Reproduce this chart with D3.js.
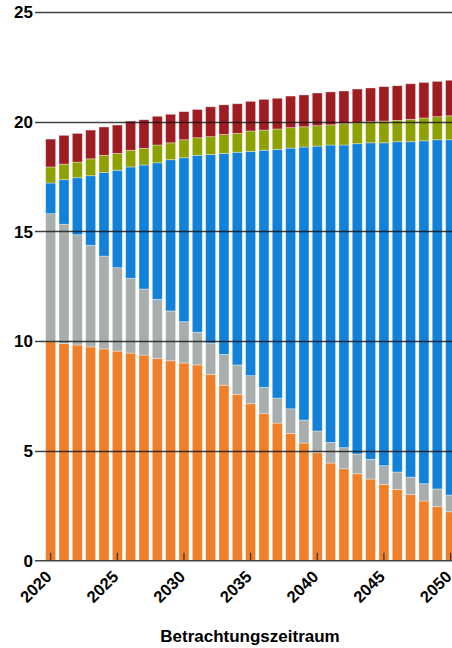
<!DOCTYPE html>
<html>
<head>
<meta charset="utf-8">
<script src="https://cdn.jsdelivr.net/npm/d3@7"></script>
<style>
  body { margin: 0; background: #fff; }
  text { font-family: "Liberation Sans", Arial, sans-serif; font-weight: bold; }
</style>
</head>
<body>
<div id="chart"></div>
<script>
// years on the x axis
var years = d3.range(2020, 2051);

// segment values per year, bottom to top
var orange = [9.98, 9.89, 9.83, 9.74, 9.65, 9.55, 9.46, 9.37, 9.22, 9.11, 9.01,
              8.92, 8.49, 8.00, 7.58, 7.15, 6.70, 6.27, 5.79, 5.36, 4.92,
              4.45, 4.19, 3.96, 3.72, 3.48, 3.25, 3.01, 2.72, 2.46, 2.23];
var grey   = [5.83, 5.44, 5.02, 4.63, 4.23, 3.80, 3.41, 3.01, 2.69, 2.27, 1.88,
              1.49, 1.43, 1.40, 1.34, 1.28, 1.20, 1.14, 1.13, 1.05, 0.99,
              0.94, 0.96, 0.90, 0.90, 0.85, 0.79, 0.80, 0.79, 0.81, 0.76];
var blue   = [1.40, 2.03, 2.60, 3.17, 3.81, 4.44, 5.07, 5.65, 6.22, 6.89, 7.47,
              8.06, 8.59, 9.16, 9.69, 10.22, 10.80, 11.33, 11.88, 12.44, 12.98,
              13.55, 13.79, 14.14, 14.42, 14.71, 15.05, 15.28, 15.62, 15.91, 16.19];
var green  = [0.73, 0.71, 0.71, 0.77, 0.78, 0.77, 0.76, 0.76, 0.81, 0.77, 0.82,
              0.80, 0.81, 0.86, 0.86, 0.93, 0.92, 0.93, 0.93, 0.92, 0.93,
              0.92, 0.97, 0.95, 0.96, 0.99, 0.97, 1.02, 1.04, 1.05, 1.09];
var red    = [1.27, 1.31, 1.31, 1.31, 1.29, 1.29, 1.33, 1.30, 1.31, 1.30, 1.28,
              1.29, 1.36, 1.35, 1.35, 1.35, 1.40, 1.40, 1.44, 1.45, 1.49,
              1.50, 1.49, 1.54, 1.54, 1.57, 1.58, 1.62, 1.62, 1.61, 1.62];

var yTicks = [0, 5, 10, 15, 20, 25];
var xTicks = [2020, 2025, 2030, 2035, 2040, 2045, 2050];
var axisTitle = "Betrachtungszeitraum";

var keys = ["orange", "grey", "blue", "green", "red"];
var colors = {
    orange: "#f07f29",
    grey: "#a8aead",
    blue: "#1281d9",
    green: "#8fa100",
    red: "#a01c23"
};

var width = 452, height = 648;

var rows = years.map(function(y, i) {
    return { year: y, orange: orange[i], grey: grey[i], blue: blue[i], green: green[i], red: red[i] };
});
var stacked = d3.stack().keys(keys)(rows);

var x = d3.scaleBand()
    .domain(years)
    .range([44, 44 + years.length * 13.33])
    .paddingInner(0.25)
    .paddingOuter(0.125);

var y = d3.scaleLinear()
    .domain([0, 25])
    .range([560.7, 12]);

var svg = d3.select("#chart")
    .append("svg")
    .attr("width", width)
    .attr("height", height);

// bars
svg.append("g")
    .selectAll("g")
    .data(stacked)
    .enter()
    .append("g")
    .attr("fill", function(d) { return colors[d.key]; })
    .selectAll("rect")
    .data(function(d) { return d; })
    .enter()
    .append("rect")
    .attr("x", function(d) { return x(d.data.year); })
    .attr("y", function(d) { return y(d[1]); })
    .attr("width", x.bandwidth())
    .attr("height", function(d) { return y(d[0]) - y(d[1]); })
    .attr("stroke", "#fff")
    .attr("stroke-opacity", 0.45)
    .attr("stroke-width", 0.8);

// grid lines, drawn over the bars
svg.append("g")
    .selectAll("line")
    .data(yTicks.slice(1))
    .enter()
    .append("line")
    .attr("x1", 35)
    .attr("x2", width)
    .attr("y1", function(d) { return Math.round(y(d)) + 0.5; })
    .attr("y2", function(d) { return Math.round(y(d)) + 0.5; })
    .attr("stroke", "#111")
    .attr("stroke-opacity", 0.8)
    .attr("stroke-width", 1.4);

// base line
svg.append("line")
    .attr("x1", 35)
    .attr("x2", width)
    .attr("y1", y(0))
    .attr("y2", y(0))
    .attr("stroke", "#444")
    .attr("stroke-width", 1.6);

// y labels
svg.append("g")
    .selectAll("text")
    .data(yTicks)
    .enter()
    .append("text")
    .attr("x", 33)
    .attr("y", function(d) { return y(d); })
    .attr("dy", "0.36em")
    .attr("text-anchor", "end")
    .style("font-size", "17px")
    .attr("fill", "#000")
    .text(function(d) { return d; });

// x ticks (inside, pointing up)
var cx = function(d) { return x(d) + x.bandwidth() / 2; };
svg.append("g")
    .selectAll("line")
    .data(xTicks)
    .enter()
    .append("line")
    .attr("x1", cx)
    .attr("x2", cx)
    .attr("y1", y(0))
    .attr("y2", y(0) - 8)
    .attr("stroke", "#333")
    .attr("stroke-width", 1.2);

// x labels, rotated
svg.append("g")
    .selectAll("text")
    .data(xTicks)
    .enter()
    .append("text")
    .attr("transform", function(d) { return "translate(" + (cx(d) - 6) + "," + (y(0) + 9) + ") rotate(-45)"; })
    .attr("text-anchor", "end")
    .attr("dy", "0.7em")
    .style("font-size", "16.5px")
    .attr("fill", "#000")
    .text(function(d) { return d; });

svg.append("text")
    .attr("x", 250)
    .attr("y", 642)
    .attr("text-anchor", "middle")
    .style("font-size", "17px")
    .attr("fill", "#000")
    .text(axisTitle);
</script>
</body>
</html>
